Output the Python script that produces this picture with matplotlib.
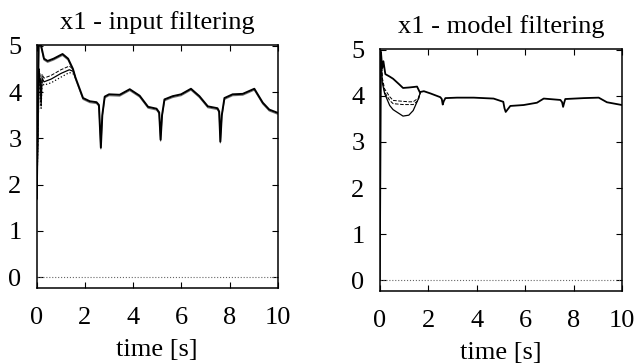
import matplotlib
import matplotlib.pyplot as plt
import numpy as np

matplotlib.use("Agg")
plt.rcParams.update(
    {
        "font.family": ["Liberation Serif", "DejaVu Serif"],
        "font.size": 18,
        "xtick.labelsize": 19,
        "ytick.labelsize": 19,
    }
)

# ---- left panel: input filtering ----
in_main_t = [0.0, 0.08, 0.18, 0.3, 0.45, 0.7, 1.07, 1.3, 1.5, 1.6, 1.92, 2.2,
             2.48, 2.58, 2.66, 2.72, 2.82, 3.0, 3.44, 3.86, 4.27, 4.62, 4.97,
             5.08, 5.14, 5.2, 5.3, 5.64, 5.99, 6.4, 6.75, 7.1, 7.5, 7.57, 7.62,
             7.68, 7.79, 8.13, 8.55, 9.03, 9.38, 9.65, 10.0]
in_main_y = [1.7, 5.05, 5.0, 4.72, 4.67, 4.72, 4.82, 4.72, 4.5, 4.32, 3.87, 3.8,
             3.78, 3.72, 2.8, 3.5, 3.9, 3.95, 3.94, 4.06, 3.92, 3.68, 3.64,
             3.56, 2.97, 3.5, 3.84, 3.91, 3.95, 4.07, 3.91, 3.69, 3.65, 3.58,
             2.93, 3.5, 3.87, 3.95, 3.96, 4.07, 3.77, 3.62, 3.55]

in_start_t = [0.0, 0.1, 0.15, 0.18, 0.22, 0.3, 0.6, 1.0, 1.35, 1.5, 1.6]
in_solid_y = [1.7, 4.45, 4.2, 3.7, 4.3, 4.22, 4.28, 4.4, 4.48, 4.45, 4.32]
in_dash_y = [1.7, 4.5, 4.3, 3.8, 4.38, 4.3, 4.36, 4.48, 4.56, 4.5, 4.32]
in_dot_y = [1.7, 4.4, 4.1, 3.65, 4.22, 4.15, 4.2, 4.32, 4.42, 4.4, 4.32]

# ---- right panel: model filtering ----
mod_main_t = [0.0, 0.05, 0.1, 0.15, 0.23, 0.4, 0.55, 0.8, 0.96, 1.2, 1.38,
              1.54, 1.65, 1.82, 2.1, 2.5, 2.56, 2.6, 2.64, 2.71, 3.19, 3.88,
              4.7, 5.1, 5.15, 5.2, 5.39, 5.94, 6.49, 6.77, 7.46, 7.53, 7.57,
              7.62, 7.66, 8.42, 9.04, 9.38, 10.0]
mod_main_y = [0.0, 4.95, 4.6, 4.75, 4.47, 4.42, 4.37, 4.25, 4.17, 4.18, 4.19,
              4.2, 4.08, 4.1, 4.05, 3.97, 3.93, 3.81, 3.88, 3.95, 3.96, 3.96,
              3.94, 3.87, 3.73, 3.65, 3.78, 3.8, 3.85, 3.94, 3.91, 3.86, 3.76,
              3.86, 3.93, 3.95, 3.96, 3.86, 3.8]

mod_start_t = [0.05, 0.1, 0.2, 0.41, 0.55, 0.96, 1.2, 1.38, 1.59, 1.68]
mod_solid_y = [4.95, 4.3, 4.05, 3.79, 3.7, 3.56, 3.58, 3.68, 3.93, 4.08]
mod_dash1_y = [4.95, 4.4, 4.15, 3.98, 3.9, 3.88, 3.87, 3.87, 3.95, 4.08]
mod_dash2_y = [4.95, 4.35, 4.08, 3.9, 3.83, 3.81, 3.81, 3.81, 3.9, 4.08]

zero_t = [0.0, 10.0]
zero_y = [0.0, 0.0]


def style_axes(ax, title):
    ax.set_xlim(0, 10)
    ax.set_ylim(-0.23, 5.02)
    ax.set_xticks([0, 2, 4, 6, 8, 10])
    ax.set_yticks([0, 1, 2, 3, 4, 5])
    ax.tick_params(direction="in", top=True, right=True, length=4, width=0.8)
    ax.tick_params(axis="x", pad=14)
    ax.tick_params(axis="y", pad=11)
    for s in ax.spines.values():
        s.set_linewidth(1.1)
    ax.set_title(title, fontsize=19, pad=11)
    ax.set_xlabel("time [s]", fontsize=19, labelpad=7)


fig = plt.figure(figsize=(6.34, 3.64), dpi=100)
ax1 = fig.add_axes([0.058, 0.209, 0.380, 0.668])
ax2 = fig.add_axes([0.599, 0.201, 0.382, 0.665])

ax1.plot(zero_t, zero_y, ":", color="0.4", lw=0.8)
ax1.plot(in_start_t, in_dash_y, "--", color="k", lw=0.7)
ax1.plot(in_start_t, in_dot_y, ":", color="k", lw=0.9)
ax1.plot(in_start_t, in_solid_y, "-", color="k", lw=0.9)
ax1.plot(in_main_t, np.array(in_main_y) - 0.03, "-", color="0.45", lw=0.8)
ax1.plot(in_main_t, in_main_y, "-", color="k", lw=1.4)
style_axes(ax1, "x1 - input filtering")

ax2.plot(zero_t, zero_y, ":", color="0.4", lw=0.8)
ax2.plot(mod_start_t, mod_dash1_y, "--", color="k", lw=0.7)
ax2.plot(mod_start_t, mod_dash2_y, "--", color="k", lw=0.7)
ax2.plot(mod_start_t, mod_solid_y, "-", color="k", lw=0.9)
ax2.plot(mod_main_t, mod_main_y, "-", color="k", lw=1.3)
style_axes(ax2, "x1 - model filtering")

fig.savefig("out.png", dpi=100)
